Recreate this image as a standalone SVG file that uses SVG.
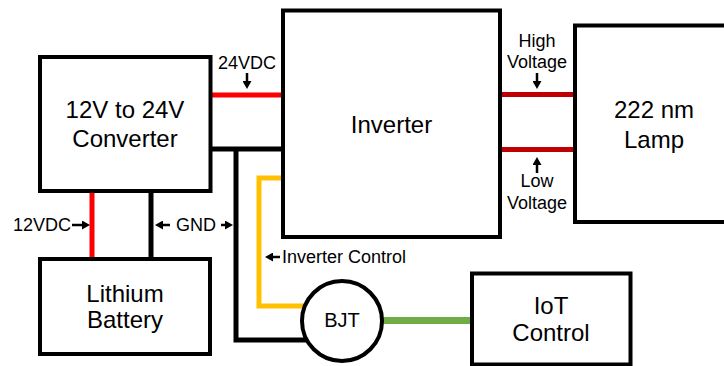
<svg xmlns="http://www.w3.org/2000/svg" width="724" height="366" viewBox="0 0 724 366">
<defs>
<marker id="ah" viewBox="0 0 8 9" refX="2" refY="4.5" markerWidth="8" markerHeight="9" markerUnits="userSpaceOnUse" orient="auto">
<path d="M0,0 L8,4.5 L0,9 z" fill="#000"/>
</marker>
<style>
.box{fill:#fff;stroke:#000;stroke-width:4}
.big{font-family:"Liberation Sans",Arial,sans-serif;font-size:24px;fill:#000;text-anchor:middle}
.sm{font-family:"Liberation Sans",Arial,sans-serif;font-size:18px;fill:#000}
.w{fill:none;stroke-width:5}
.blk{stroke:#000}
.red{stroke:#FF0000}
.dred{stroke:#C00000}
.yel{stroke:#FFC000}
.grn{stroke:#70AD47;stroke-width:7}
.arr{stroke:#000;stroke-width:2.5;marker-end:url(#ah)}
</style>
</defs>
<rect width="724" height="366" fill="#fff"/>
<g id="connectors">
<line class="w red" x1="211" y1="95" x2="283" y2="95"/>
<line class="w blk" x1="211" y1="149" x2="283" y2="149"/>
<line class="w dred" x1="500" y1="94.5" x2="575" y2="94.5"/>
<line class="w dred" x1="500" y1="149.5" x2="575" y2="149.5"/>
<line class="w red" x1="92" y1="191" x2="92" y2="259"/>
<line class="w blk" x1="151" y1="191" x2="151" y2="259"/>
<polyline class="w blk" points="236,147 236,340 312,340"/>
<polyline class="w yel" points="283,178 259,178 259,306 312,306"/>
<line class="w grn" x1="378" y1="320.5" x2="472" y2="320.5"/>
<g id="labels">
<text class="sm" x="247" y="69" text-anchor="middle">24VDC</text>
<line class="arr" x1="247" y1="73" x2="247" y2="83"/>
<text class="sm" x="537" y="47" text-anchor="middle">High</text>
<text class="sm" x="537" y="68" text-anchor="middle">Voltage</text>
<line class="arr" x1="537" y1="73" x2="537" y2="83"/>
<line class="arr" x1="537" y1="173" x2="537" y2="163"/>
<text class="sm" x="537" y="187" text-anchor="middle">Low</text>
<text class="sm" x="537" y="209" text-anchor="middle">Voltage</text>
<text class="sm" x="71" y="231" text-anchor="end">12VDC</text>
<line class="arr" x1="72" y1="225" x2="84" y2="225"/>
<line class="arr" x1="170" y1="225" x2="161" y2="225"/>
<text class="sm" x="196" y="231" text-anchor="middle">GND</text>
<line class="arr" x1="221" y1="225" x2="227" y2="225"/>
<line class="arr" x1="280" y1="257" x2="271" y2="257"/>
<text class="sm" x="282" y="263">Inverter Control</text>
</g>
</g>
<g id="converter">
<rect class="box" x="40" y="57" width="170.5" height="134"/>
<text class="big" x="125" y="118">12V to 24V</text>
<text class="big" x="125" y="147">Converter</text>
</g>
<g id="inverter">
<rect class="box" x="283" y="10.5" width="217" height="226.5"/>
<text class="big" x="391.5" y="133">Inverter</text>
</g>
<g id="lamp">
<rect class="box" x="575" y="25.5" width="170" height="196.5"/>
<text class="big" x="654" y="118">222 nm</text>
<text class="big" x="654" y="148">Lamp</text>
</g>
<g id="battery">
<rect class="box" x="40" y="259" width="170" height="95"/>
<text class="big" x="125" y="302">Lithium</text>
<text class="big" x="125" y="328">Battery</text>
</g>
<g id="bjt">
<circle class="box" cx="342" cy="321" r="40"/>
<text class="big" x="342" y="327" style="font-size:20px">BJT</text>
</g>
<g id="iot">
<rect class="box" x="472" y="273.5" width="158.5" height="91"/>
<text class="big" x="551" y="314">IoT</text>
<text class="big" x="551" y="341">Control</text>
</g>
</svg>
